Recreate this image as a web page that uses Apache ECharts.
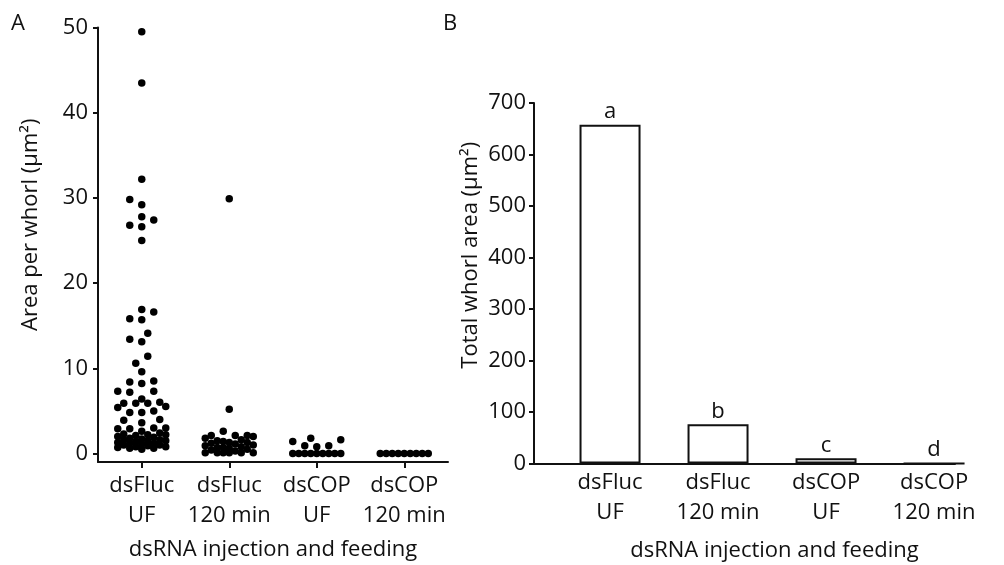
<!DOCTYPE html>
<html>
<head>
<meta charset="utf-8">
<script src="https://cdn.jsdelivr.net/npm/echarts@6/dist/echarts.min.js"></script>
<style>
html, body { margin: 0; padding: 0; background: #fff; }
#chart { width: 1004px; height: 565px; }
</style>
</head>
<body>
<div id="chart"></div>
<script>
// categories, shared by both panels
const groups = ['dsFluc\nUF', 'dsFluc\n120 min', 'dsCOP\nUF', 'dsCOP\n120 min']

// panel A: area of each whorl (um2), one array per group
const dsFlucUF = [49.5, 43.5, 32.2, 29.8, 29.2, 27.8, 27.4, 26.8, 26.6, 25.0,
  16.9, 16.6, 15.8, 15.7, 14.1, 13.4, 13.1, 11.4, 10.6, 9.6,
  8.5, 8.4, 8.2, 7.3, 7.3, 7.2, 6.4, 6.0, 5.9, 5.9, 5.9, 5.5, 5.4, 5.0,
  4.8, 4.8, 4.0, 3.9, 3.6, 3.0, 3.0, 2.9, 2.9, 2.6, 2.4, 2.3, 2.2, 2.2,
  2.1, 2.0, 1.9, 1.8, 1.7, 1.6, 1.6, 1.5, 1.5, 1.4, 1.3, 1.2, 1.2, 1.1,
  1.0, 1.0, 0.9, 0.8, 0.8, 0.7, 0.6, 0.6, 0.5]
const dsFluc120 = [29.9, 5.2, 2.6, 2.1, 2.1, 2.1, 2.0, 1.8, 1.6, 1.5, 1.4, 1.3,
  1.3, 1.2, 1.1, 1.0, 0.9, 0.8, 0.7, 0.7, 0.6, 0.5, 0.4, 0.3,
  0.1, 0.1, 0.1, 0.1, 0.1, 0.1]
const dsCopUF = [1.8, 1.6, 1.4, 0.9, 0.9, 0.8, 0, 0, 0, 0, 0, 0, 0, 0, 0]
const dsCop120 = [0, 0, 0, 0, 0, 0, 0, 0, 0]

// panel B: total whorl area and significance letters
const totalArea = [658, 76, 10, 0]
const letters = ['a', 'b', 'c', 'd']

const font = 'Open Sans'
const ink = '#111'

// grid A geometry (needed to spread the dots in pixels)
const gridA = { left: 98, top: 27.5, width: 350, height: 434.5, outerBoundsMode: 'none' }
const yMinA = -1, yMaxA = 50
const pxX = gridA.width / 4
const pxY = gridA.height / (yMaxA - yMinA)

// beeswarm: slots every 6px within +-24px, keep 10px between dot centres
// when possible, otherwise take the least crowded slot
const swarm = (values, idx) => {
  const slots = []
  for (let k = 0; k <= 8; k++) slots.push((k % 2 ? -1 : 1) * Math.ceil(k / 2) * 6)
  const placed = []
  values.slice().sort((a, b) => a - b).forEach(v => {
    const y = v * pxY
    const dist = dx => placed.reduce((m, p) => Math.min(m, Math.hypot(p.dx - dx, p.y - y)), Infinity)
    let best = slots.find(dx => dist(dx) >= 10)
    if (best === undefined) best = slots.reduce((b, dx) => dist(dx) > dist(b) ? dx : b, slots[0])
    placed.push({ dx: best, y, v })
  })
  return placed.map(p => [idx + 1 + p.dx / pxX, p.v])
}

const dots = [dsFlucUF, dsFluc120, dsCopUF, dsCop120]
  .map((vals, i) => swarm(vals, i)).flat()

const labelStyle = { color: ink, fontFamily: font, fontSize: 22 }
const axisLine = { show: true, onZero: false, lineStyle: { color: ink, width: 2 } }
const axisTick = { show: true, length: 6, lineStyle: { color: ink, width: 2 } }

const chart = echarts.init(document.getElementById('chart'))
chart.setOption({
  backgroundColor: '#fff',
  animation: false,
  title: [
    { text: 'A', left: 6, top: 8, textStyle: { ...labelStyle, fontWeight: 'normal' } },
    { text: 'B', left: 438, top: 8, textStyle: { ...labelStyle, fontWeight: 'normal' } }
  ],
  grid: [
    gridA,
    { left: 534, top: 103, width: 421, height: 360.5, outerBoundsMode: 'none' }
  ],
  xAxis: [
    {
      gridIndex: 0, type: 'value', min: 0.5, max: 4.5,
      axisLine, splitLine: { show: false },
      axisTick: { ...axisTick, customValues: [1, 2, 3, 4] },
      axisLabel: { ...labelStyle, lineHeight: 30, margin: 9, customValues: [1, 2, 3, 4],
        formatter: v => groups[Math.round(v) - 1] },
      name: 'dsRNA injection and feeding', nameLocation: 'middle', nameGap: 77,
      nameTextStyle: labelStyle
    },
    {
      gridIndex: 1, type: 'value', min: -0.704, max: 3.194,
      axisLine, splitLine: { show: false },
      axisTick: { show: false },
      axisLabel: { ...labelStyle, lineHeight: 30, margin: 4, customValues: [0, 1, 2, 3],
        formatter: v => groups[Math.round(v)] },
      name: 'dsRNA injection and feeding', nameLocation: 'middle', nameGap: 76,
      nameTextStyle: { ...labelStyle, padding: [0, 0, 0, 60] }
    }
  ],
  yAxis: [
    {
      gridIndex: 0, type: 'value', min: yMinA, max: yMaxA,
      axisLine, splitLine: { show: false },
      axisTick: { ...axisTick, length: 5, customValues: [0, 10, 20, 30, 40, 50] },
      axisLabel: { ...labelStyle, margin: 10, customValues: [0, 10, 20, 30, 40, 50] },
      name: 'Area per whorl (\u03bcm\u00b2)', nameLocation: 'middle', nameGap: 56,
      nameTextStyle: { ...labelStyle, padding: [0, 0, 0, 40] }
    },
    {
      gridIndex: 1, type: 'value', min: 0, max: 700, interval: 100,
      axisLine, splitLine: { show: false },
      axisTick: { ...axisTick, length: 5 },
      axisLabel: { ...labelStyle, margin: 8 },
      name: 'Total whorl area (\u03bcm\u00b2)', nameLocation: 'middle', nameGap: 52,
      nameTextStyle: { ...labelStyle, padding: [0, 0, 0, 56] }
    }
  ],
  series: [
    {
      type: 'scatter', xAxisIndex: 0, yAxisIndex: 0,
      symbolSize: 7.5, itemStyle: { color: '#000', opacity: 1 },
      data: dots
    },
    {
      type: 'bar', xAxisIndex: 1, yAxisIndex: 1,
      barWidth: 61,
      itemStyle: { color: '#fff', borderColor: ink, borderWidth: 2 },
      label: { show: true, position: 'top', distance: 2, ...labelStyle,
        formatter: p => letters[p.dataIndex] },
      data: totalArea.map((v, i) => [i, v])
    }
  ]
})
</script>
</body>
</html>
